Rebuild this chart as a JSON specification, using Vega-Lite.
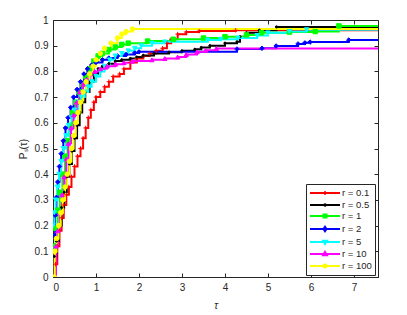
{
  "$schema": "https://vega.github.io/schema/vega-lite/v6.json",
  "width": 325,
  "height": 257,
  "autosize": {"type": "none"},
  "padding": {"left": 53, "top": 20, "right": 29, "bottom": 38},
  "background": "white",
  "config": {
    "view": {"stroke": "#262626", "strokeWidth": 1},
    "font": "Liberation Sans",
    "axis": {"grid": false, "domainColor": "#262626", "tickColor": "#262626", "labelColor": "#262626", "labelFont": "Liberation Sans", "labelFontSize": 10, "titleFont": "Liberation Sans", "titleFontSize": 10, "titleFontWeight": "normal", "titleColor": "#262626", "tickSize": -4, "labelPadding": 9}
  },
  "data": {"values": [
    {"r":0.1,"t":0.06,"p":0.05},{"r":0.1,"t":0.1,"p":0.12},{"r":0.1,"t":0.15,"p":0.18},{"r":0.1,"t":0.2,"p":0.23},{"r":0.1,"t":0.25,"p":0.28},{"r":0.1,"t":0.31,"p":0.32},{"r":0.1,"t":0.37,"p":0.35},{"r":0.1,"t":0.43,"p":0.39},{"r":0.1,"t":0.5,"p":0.43},{"r":0.1,"t":0.57,"p":0.47},{"r":0.1,"t":0.64,"p":0.5},{"r":0.1,"t":0.7,"p":0.54},{"r":0.1,"t":0.76,"p":0.58},{"r":0.1,"t":0.82,"p":0.62},{"r":0.1,"t":0.88,"p":0.65},{"r":0.1,"t":0.95,"p":0.68},{"r":0.1,"t":1.0,"p":0.7},{"r":0.1,"t":1.1,"p":0.72},{"r":0.1,"t":1.2,"p":0.74},{"r":0.1,"t":1.3,"p":0.76},{"r":0.1,"t":1.4,"p":0.78},{"r":0.1,"t":1.55,"p":0.79},{"r":0.1,"t":1.65,"p":0.81},{"r":0.1,"t":1.8,"p":0.835},{"r":0.1,"t":1.95,"p":0.85},{"r":0.1,"t":2.1,"p":0.86},{"r":0.1,"t":2.25,"p":0.87},{"r":0.1,"t":2.4,"p":0.88},{"r":0.1,"t":2.55,"p":0.89},{"r":0.1,"t":2.65,"p":0.91},{"r":0.1,"t":2.75,"p":0.925},{"r":0.1,"t":2.9,"p":0.945},{"r":0.1,"t":3.1,"p":0.953},{"r":0.1,"t":3.4,"p":0.957},{"r":0.1,"t":4.25,"p":0.96},{"r":0.1,"t":8,"p":0.96},
    {"r":0.5,"t":0.03,"p":0.08},{"r":0.5,"t":0.08,"p":0.14},{"r":0.5,"t":0.14,"p":0.2},{"r":0.5,"t":0.2,"p":0.27},{"r":0.5,"t":0.26,"p":0.33},{"r":0.5,"t":0.32,"p":0.39},{"r":0.5,"t":0.38,"p":0.44},{"r":0.5,"t":0.44,"p":0.49},{"r":0.5,"t":0.5,"p":0.54},{"r":0.5,"t":0.56,"p":0.59},{"r":0.5,"t":0.62,"p":0.64},{"r":0.5,"t":0.68,"p":0.68},{"r":0.5,"t":0.75,"p":0.72},{"r":0.5,"t":0.85,"p":0.76},{"r":0.5,"t":0.95,"p":0.79},{"r":0.5,"t":1.05,"p":0.81},{"r":0.5,"t":1.15,"p":0.82},{"r":0.5,"t":1.3,"p":0.83},{"r":0.5,"t":1.45,"p":0.84},{"r":0.5,"t":1.6,"p":0.845},{"r":0.5,"t":1.8,"p":0.85},{"r":0.5,"t":1.95,"p":0.856},{"r":0.5,"t":2.1,"p":0.862},{"r":0.5,"t":2.35,"p":0.87},{"r":0.5,"t":2.7,"p":0.875},{"r":0.5,"t":3.0,"p":0.88},{"r":0.5,"t":3.3,"p":0.886},{"r":0.5,"t":3.45,"p":0.893},{"r":0.5,"t":3.65,"p":0.9},{"r":0.5,"t":4.0,"p":0.91},{"r":0.5,"t":4.28,"p":0.915},{"r":0.5,"t":4.35,"p":0.935},{"r":0.5,"t":4.5,"p":0.95},{"r":0.5,"t":4.8,"p":0.96},{"r":0.5,"t":5.2,"p":0.973},{"r":0.5,"t":8,"p":0.973},
    {"r":1,"t":0.02,"p":0.12},{"r":1,"t":0.06,"p":0.19},{"r":1,"t":0.11,"p":0.26},{"r":1,"t":0.16,"p":0.33},{"r":1,"t":0.22,"p":0.4},{"r":1,"t":0.28,"p":0.47},{"r":1,"t":0.34,"p":0.53},{"r":1,"t":0.4,"p":0.59},{"r":1,"t":0.46,"p":0.64},{"r":1,"t":0.53,"p":0.68},{"r":1,"t":0.6,"p":0.72},{"r":1,"t":0.68,"p":0.75},{"r":1,"t":0.76,"p":0.78},{"r":1,"t":0.85,"p":0.81},{"r":1,"t":0.95,"p":0.84},{"r":1,"t":1.05,"p":0.86},{"r":1,"t":1.15,"p":0.87},{"r":1,"t":1.3,"p":0.885},{"r":1,"t":1.45,"p":0.895},{"r":1,"t":1.6,"p":0.905},{"r":1,"t":1.75,"p":0.91},{"r":1,"t":2.2,"p":0.918},{"r":1,"t":2.8,"p":0.925},{"r":1,"t":3.5,"p":0.93},{"r":1,"t":4.0,"p":0.935},{"r":1,"t":4.5,"p":0.942},{"r":1,"t":4.85,"p":0.95},{"r":1,"t":5.5,"p":0.953},{"r":1,"t":6.1,"p":0.955},{"r":1,"t":6.65,"p":0.977},{"r":1,"t":8,"p":0.977},
    {"r":2,"t":0.02,"p":0.16},{"r":2,"t":0.05,"p":0.24},{"r":2,"t":0.08,"p":0.31},{"r":2,"t":0.11,"p":0.37},{"r":2,"t":0.15,"p":0.43},{"r":2,"t":0.19,"p":0.48},{"r":2,"t":0.24,"p":0.53},{"r":2,"t":0.29,"p":0.58},{"r":2,"t":0.35,"p":0.62},{"r":2,"t":0.41,"p":0.66},{"r":2,"t":0.48,"p":0.7},{"r":2,"t":0.56,"p":0.73},{"r":2,"t":0.64,"p":0.76},{"r":2,"t":0.72,"p":0.79},{"r":2,"t":0.8,"p":0.81},{"r":2,"t":0.9,"p":0.825},{"r":2,"t":1.0,"p":0.835},{"r":2,"t":1.15,"p":0.845},{"r":2,"t":1.3,"p":0.852},{"r":2,"t":1.5,"p":0.86},{"r":2,"t":1.7,"p":0.866},{"r":2,"t":1.9,"p":0.872},{"r":2,"t":2.0,"p":0.876},{"r":2,"t":4.28,"p":0.887},{"r":2,"t":4.86,"p":0.89},{"r":2,"t":5.19,"p":0.899},{"r":2,"t":5.7,"p":0.907},{"r":2,"t":5.86,"p":0.911},{"r":2,"t":5.98,"p":0.914},{"r":2,"t":6.88,"p":0.922},{"r":2,"t":8,"p":0.922},
    {"r":5,"t":0.0,"p":0.2},{"r":5,"t":0.03,"p":0.25},{"r":5,"t":0.06,"p":0.3},{"r":5,"t":0.1,"p":0.35},{"r":5,"t":0.14,"p":0.4},{"r":5,"t":0.19,"p":0.45},{"r":5,"t":0.24,"p":0.5},{"r":5,"t":0.3,"p":0.55},{"r":5,"t":0.36,"p":0.59},{"r":5,"t":0.43,"p":0.62},{"r":5,"t":0.5,"p":0.65},{"r":5,"t":0.58,"p":0.68},{"r":5,"t":0.66,"p":0.7},{"r":5,"t":0.74,"p":0.72},{"r":5,"t":0.82,"p":0.74},{"r":5,"t":0.9,"p":0.76},{"r":5,"t":1.0,"p":0.78},{"r":5,"t":1.1,"p":0.8},{"r":5,"t":1.2,"p":0.82},{"r":5,"t":1.32,"p":0.845},{"r":5,"t":1.45,"p":0.86},{"r":5,"t":1.6,"p":0.87},{"r":5,"t":1.75,"p":0.88},{"r":5,"t":1.9,"p":0.89},{"r":5,"t":2.05,"p":0.9},{"r":5,"t":2.3,"p":0.91},{"r":5,"t":2.6,"p":0.915},{"r":5,"t":3.6,"p":0.922},{"r":5,"t":3.9,"p":0.925},{"r":5,"t":4.3,"p":0.93},{"r":5,"t":4.75,"p":0.94},{"r":5,"t":5.0,"p":0.95},{"r":5,"t":5.5,"p":0.955},{"r":5,"t":5.9,"p":0.962},{"r":5,"t":8,"p":0.962},
    {"r":10,"t":0.06,"p":0.0},{"r":10,"t":0.07,"p":0.12},{"r":10,"t":0.11,"p":0.18},{"r":10,"t":0.16,"p":0.25},{"r":10,"t":0.21,"p":0.32},{"r":10,"t":0.26,"p":0.39},{"r":10,"t":0.31,"p":0.46},{"r":10,"t":0.36,"p":0.52},{"r":10,"t":0.42,"p":0.58},{"r":10,"t":0.48,"p":0.63},{"r":10,"t":0.55,"p":0.68},{"r":10,"t":0.62,"p":0.72},{"r":10,"t":0.7,"p":0.75},{"r":10,"t":0.78,"p":0.77},{"r":10,"t":0.87,"p":0.79},{"r":10,"t":0.97,"p":0.8},{"r":10,"t":1.1,"p":0.81},{"r":10,"t":1.25,"p":0.82},{"r":10,"t":1.45,"p":0.828},{"r":10,"t":1.65,"p":0.834},{"r":10,"t":1.85,"p":0.84},{"r":10,"t":2.3,"p":0.845},{"r":10,"t":2.6,"p":0.85},{"r":10,"t":2.9,"p":0.856},{"r":10,"t":3.1,"p":0.866},{"r":10,"t":3.35,"p":0.876},{"r":10,"t":3.55,"p":0.882},{"r":10,"t":3.8,"p":0.889},{"r":10,"t":8,"p":0.889},
    {"r":100,"t":0.03,"p":0.0},{"r":100,"t":0.04,"p":0.1},{"r":100,"t":0.08,"p":0.15},{"r":100,"t":0.13,"p":0.2},{"r":100,"t":0.18,"p":0.25},{"r":100,"t":0.23,"p":0.3},{"r":100,"t":0.28,"p":0.35},{"r":100,"t":0.33,"p":0.4},{"r":100,"t":0.38,"p":0.45},{"r":100,"t":0.43,"p":0.5},{"r":100,"t":0.48,"p":0.55},{"r":100,"t":0.53,"p":0.6},{"r":100,"t":0.58,"p":0.64},{"r":100,"t":0.64,"p":0.68},{"r":100,"t":0.7,"p":0.72},{"r":100,"t":0.77,"p":0.76},{"r":100,"t":0.85,"p":0.79},{"r":100,"t":0.93,"p":0.82},{"r":100,"t":1.0,"p":0.845},{"r":100,"t":1.1,"p":0.87},{"r":100,"t":1.2,"p":0.89},{"r":100,"t":1.35,"p":0.91},{"r":100,"t":1.5,"p":0.93},{"r":100,"t":1.6,"p":0.945},{"r":100,"t":1.7,"p":0.955},{"r":100,"t":1.85,"p":0.965},{"r":100,"t":8,"p":0.965}
  ]},
  "layer": [
    {
      "mark": {"type": "line", "interpolate": "step-after", "strokeWidth": 2, "clip": true},
      "encoding": {
        "x": {"field": "t", "type": "quantitative", "scale": {"domain": [0, 7.56], "nice": false, "zero": false}, "axis": {"orient": "bottom", "values": [0,1,2,3,4,5,6,7], "title": "τ", "titleFontStyle": "italic", "titlePadding": 8}},
        "y": {"field": "p", "type": "quantitative", "scale": {"domain": [0, 1], "nice": false}, "axis": {"orient": "left", "values": [0,0.1,0.2,0.3,0.4,0.5,0.6,0.7,0.8,0.9,1], "format": "~g", "title": "Pₛ(τ)", "titlePadding": 6}},
        "color": {"field": "r", "type": "nominal", "scale": {"domain": [0.1,0.5,1,2,5,10,100], "range": ["#ff0000","#000000","#00ff00","#0000ff","#00ffff","#ff00ff","#ffff00"]}, "legend": null},
        "order": {"value": null}
      }
    },
    {
      "mark": {"type": "point", "filled": true, "size": 20, "strokeWidth": 1, "opacity": 1, "clip": true},
      "encoding": {
        "x": {"field": "t", "type": "quantitative", "axis": null},
        "y": {"field": "p", "type": "quantitative", "axis": null},
        "fill": {"field": "r", "type": "nominal", "scale": {"domain": [0.1,0.5,1,2,5,10,100], "range": ["#ff0000","#000000","#00ff00","#0000ff","#00ffff","#ff00ff","#ffff00"]}, "legend": null},
        "stroke": {"field": "r", "type": "nominal", "scale": {"domain": [0.1,0.5,1,2,5,10,100], "range": ["#ff0000","#000000","#00ff00","#0000ff","#00ffff","#ff00ff","#ffff00"]}, "legend": null},
        "shape": {"field": "r", "type": "nominal", "scale": {"domain": [0.1,0.5,1,2,5,10,100], "range": ["M-1,0H1M0,-1V1", "M-0.5,0A0.5,0.5 0 1 1 0.5,0A0.5,0.5 0 1 1 -0.5,0Z", "square", "diamond", "triangle-down", "triangle-up", "circle"]}, "legend": null}
      }
    },
    {
      "transform": [{"filter": "datum.p > 2"}],
      "mark": {"type": "point", "filled": true, "strokeWidth": 2, "opacity": 1},
      "encoding": {
        "x": {"field": "t", "type": "quantitative", "axis": {"orient": "top", "values": [0,1,2,3,4,5,6,7], "labels": false, "title": null, "domain": false}},
        "y": {"field": "p", "type": "quantitative", "axis": {"orient": "right", "values": [0,0.1,0.2,0.3,0.4,0.5,0.6,0.7,0.8,0.9,1], "labels": false, "title": null, "domain": false}},
        "fill": {"field": "r", "type": "nominal", "scale": {"domain": [0.1,0.5,1,2,5,10,100], "range": ["#ff0000","#000000","#00ff00","#0000ff","#00ffff","#ff00ff","#ffff00"]}, "legend": {"title": null}},
        "stroke": {"field": "r", "type": "nominal", "scale": {"domain": [0.1,0.5,1,2,5,10,100], "range": ["#ff0000","#000000","#00ff00","#0000ff","#00ffff","#ff00ff","#ffff00"]}, "legend": {"title": null}},
        "shape": {"field": "r", "type": "nominal", "scale": {"domain": [0.1,0.5,1,2,5,10,100], "range": [
          "M-1,0H5M2,-0.36V0.36",
          "M-1,0H5M1.85,0A0.15,0.15 0 1 1 2.15,0A0.15,0.15 0 1 1 1.85,0Z",
          "M-1,0H5M1.7,-0.3H2.3V0.3H1.7Z",
          "M-1,0H5M2,-0.45L2.3,0L2,0.45L1.7,0Z",
          "M-1,0H5M1.61,-0.27L2.39,-0.27L2,0.39Z",
          "M-1,0H5M1.61,0.27L2.39,0.27L2,-0.39Z",
          "M-1,0H5M1.7,0A0.3,0.3 0 1 1 2.3,0A0.3,0.3 0 1 1 1.7,0Z"
        ]}, "legend": {
          "title": null, "orient": "none", "legendX": 253, "legendY": 164,
          "symbolSize": 100, "symbolStrokeWidth": 2, "symbolOpacity": 1,
          "labelExpr": "'r = ' + datum.label", "labelFont": "Liberation Sans", "labelFontSize": 9.5, "labelColor": "#262626", "labelOffset": 21,
          "strokeColor": "#262626", "fillColor": "white", "padding": 3, "rowPadding": 0, "offset": 0
        }}
      }
    }
  ],
  "resolve": {"scale": {"fill": "independent", "stroke": "independent", "shape": "independent"}, "axis": {"x": "independent", "y": "independent"}}
}
